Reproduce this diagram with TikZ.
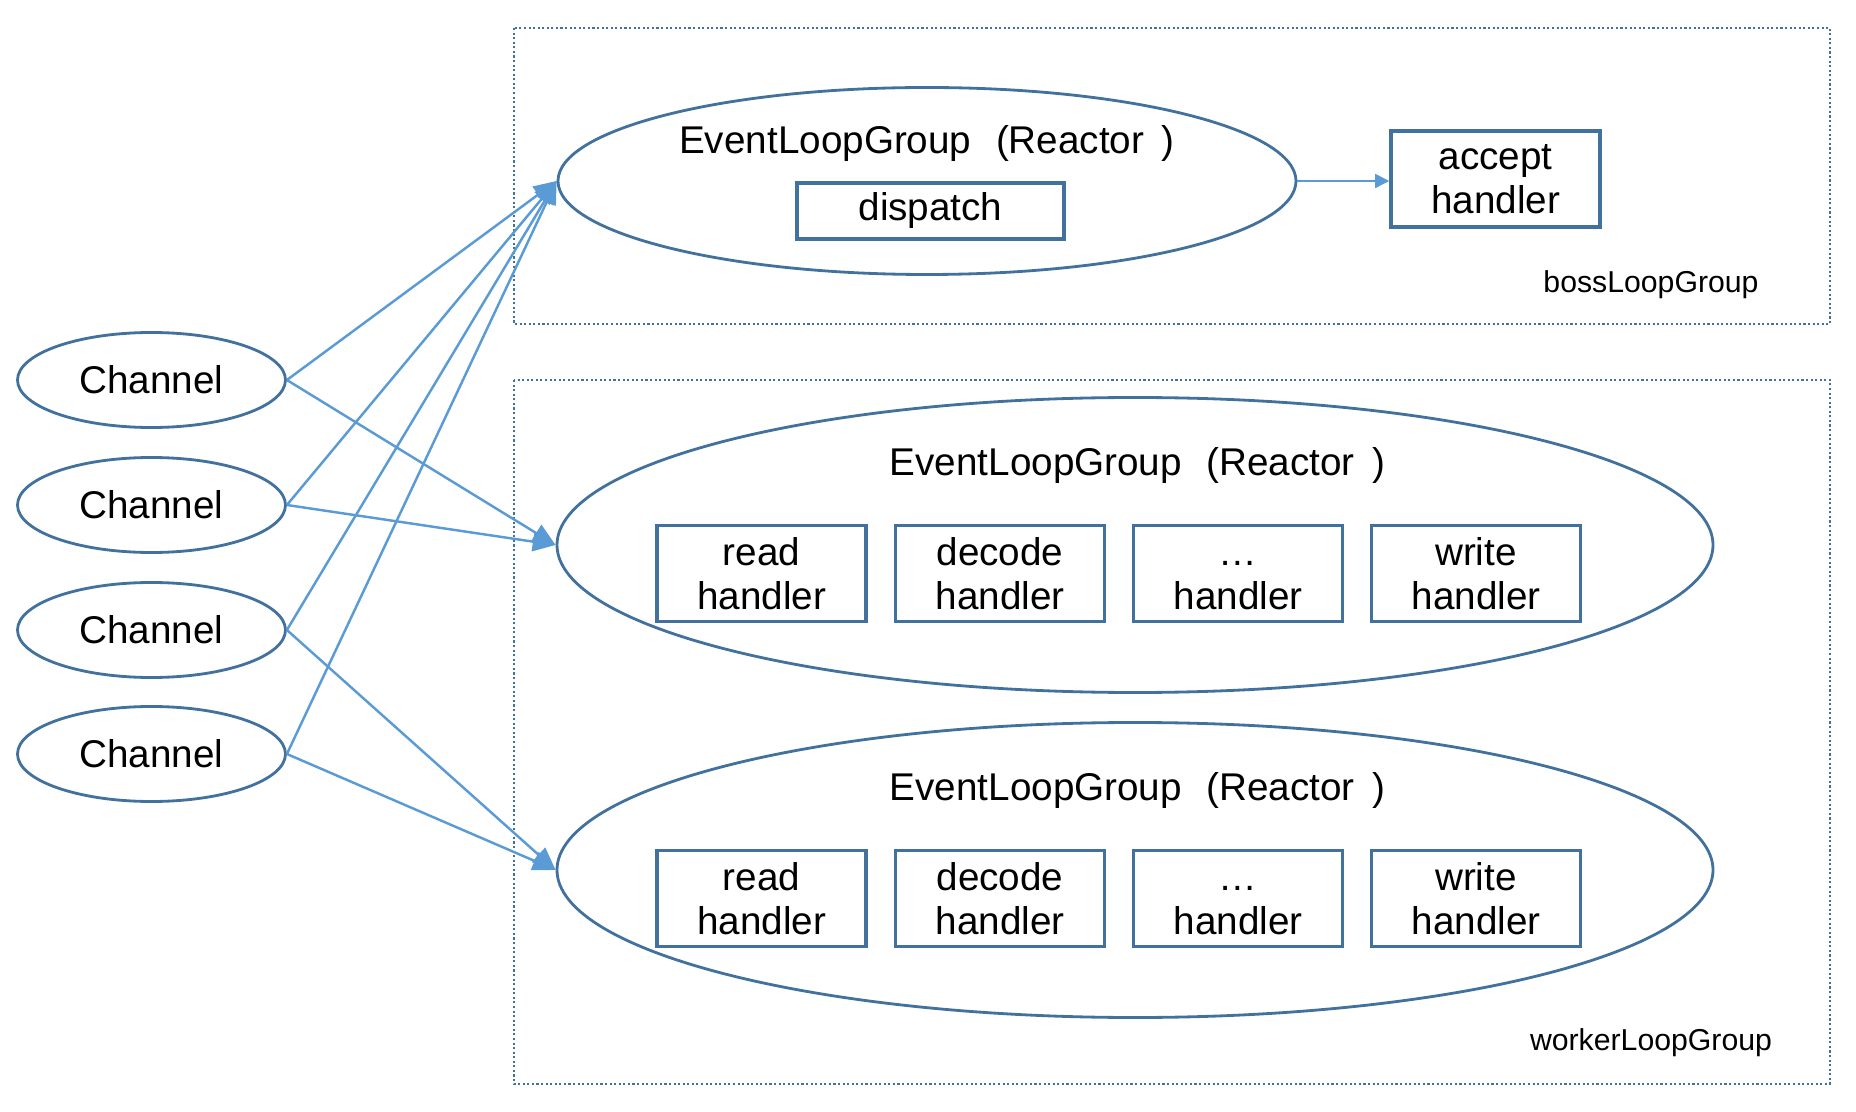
\documentclass[tikz,border=0pt]{standalone}
\usepackage{fontspec}
\setmainfont{Liberation Sans}
\usetikzlibrary{arrows.meta,shapes.geometric}
\definecolor{edge}{RGB}{65,113,156}
\definecolor{link}{RGB}{91,155,213}
\newcommand{\reactor}{EventLoopGroup\hspace{7pt}(Reactor\hspace{5pt})}

\begin{document}
\begin{tikzpicture}[font=\fontsize{11}{12.5}\selectfont,
  chan/.style={ellipse, draw=edge, line width=0.8pt, minimum width=2.68cm, minimum height=0.95cm, inner sep=0pt},
  loop/.style={ellipse, draw=edge, line width=0.8pt, inner sep=0pt},
  hbox/.style={draw=edge, line width=1pt, minimum width=2.09cm, minimum height=0.96cm, align=center, inner sep=0pt},
  grp/.style={draw=edge, line width=0.6pt, dash pattern=on 0.6pt off 0.7pt},
  conn/.style={-{Triangle[length=6.5pt,width=5.5pt]}, draw=link, line width=0.7pt},
  tag/.style={font=\fontsize{8.6}{10}\selectfont}]
\useasboundingbox (0,0) rectangle (18.56,-11.12);
% Zone A: boss group
\draw[grp] (5.14,-0.28) rectangle (18.30,-3.24);
\node[loop, minimum width=7.38cm, minimum height=1.87cm] (boss) at (9.27,-1.81) {};
\node (bosst) at (9.27,-1.44) {\reactor};
\node[hbox, minimum width=2.67cm, minimum height=0.56cm] (disp) at (9.305,-2.11) {dispatch};
\node[hbox] (acc) at (14.955,-1.79) {accept\\handler};
\node[tag] (bossl) at (16.51,-2.85) {bossLoopGroup};
\draw[-{Triangle[length=4pt,width=4pt]}, draw=link, line width=0.4pt] (boss.east) -- (boss.east -| acc.west);
% Zone B: worker group
\draw[grp] (5.14,-3.80) rectangle (18.30,-10.84);
\foreach \i/\y/\ty/\by in {1/-5.45/-4.66/-5.735, 2/-8.70/-7.91/-8.985}{
  \node[loop, minimum width=11.56cm, minimum height=2.95cm] (w\i) at (11.35,\y) {};
  \node (wt\i) at (11.375,\ty) {\reactor};
  \foreach \x/\n/\t in {7.615/a/read, 10.0/b/decode, 12.38/c/{…}, 14.76/d/write}{
    \node[hbox] (h\i\n) at (\x,\by) {\vphantom{dh}\t\\handler};
  }
}
\node[tag] (workl) at (16.51,-10.43) {workerLoopGroup};
% Zone C: channels
\foreach \j/\y in {1/-3.80, 2/-5.05, 3/-6.30, 4/-7.54}{
  \node[chan] (ch\j) at (1.515,\y) {Channel};
  \draw[conn] (ch\j.east) -- (boss.west);
}
\draw[conn] (ch1.east) -- (w1.west);
\draw[conn] (ch2.east) -- (w1.west);
\draw[conn] (ch3.east) -- (w2.west);
\draw[conn] (ch4.east) -- (w2.west);
\end{tikzpicture}
\end{document}
